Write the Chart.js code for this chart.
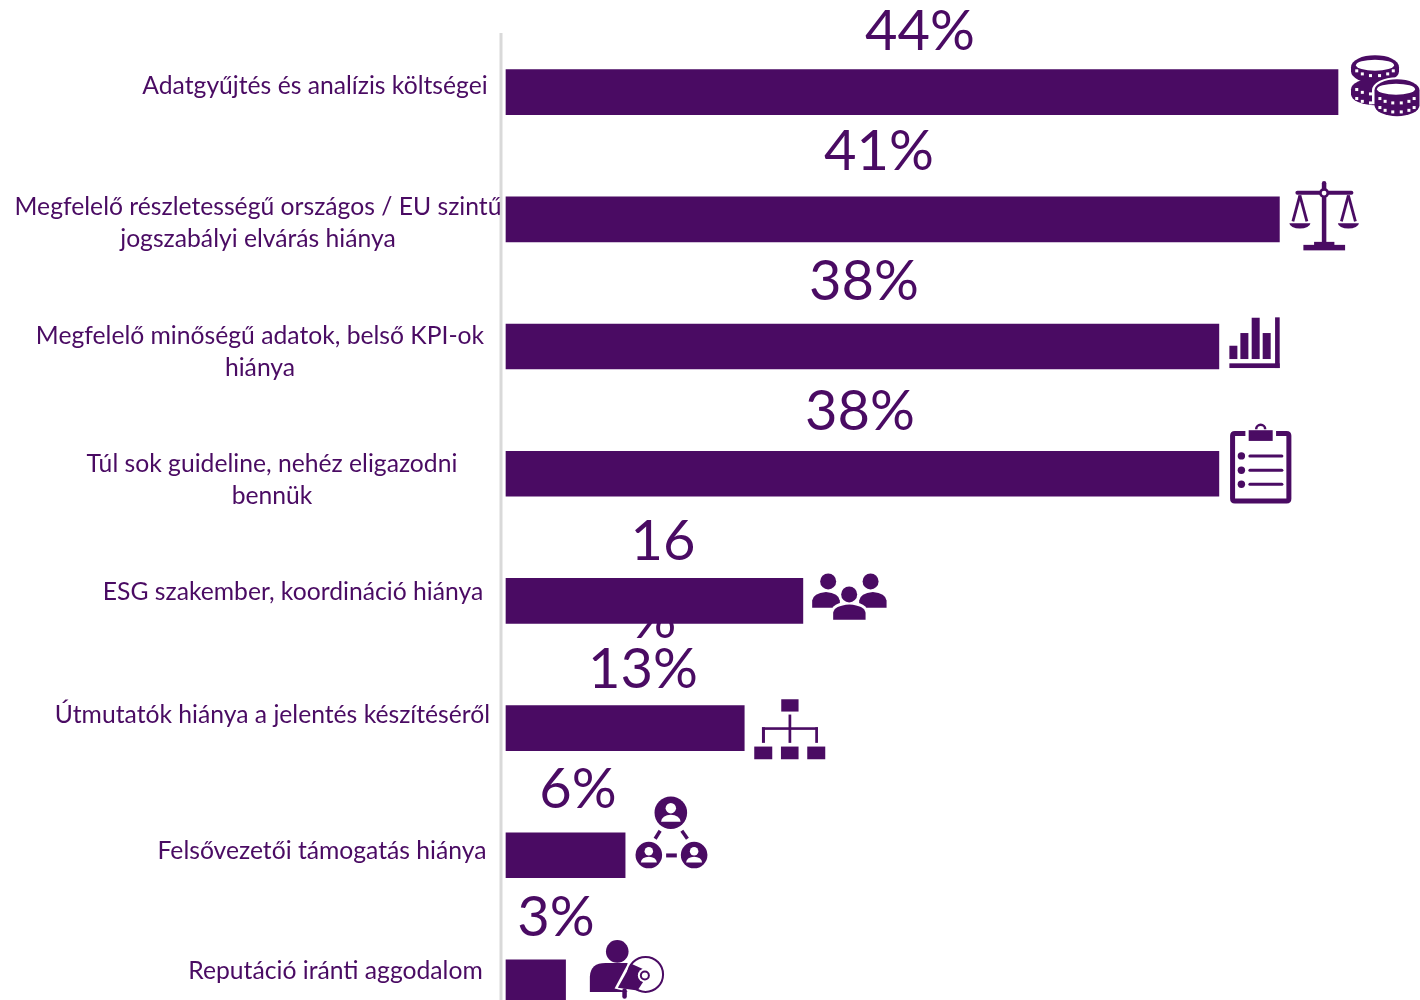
<!DOCTYPE html>
<html lang="hu">
<head>
<meta charset="utf-8">
<title>ESG jelentés nehézségei</title>
<script src="https://cdn.jsdelivr.net/npm/chart.js@4"></script>
<style>
    html, body { margin: 0; padding: 0; background: #fff; overflow: hidden; }
    canvas { display: block; }
</style>
</head>
<body>
<canvas id="barriersChart" width="1420" height="1046"></canvas>
<script>
// Data
const categories = [
    ["Adatgyűjtés és analízis költségei"],
    ["Megfelelő részletességű országos / EU szintű", "jogszabályi elvárás hiánya"],
    ["Megfelelő minőségű adatok, belső KPI-ok", "hiánya"],
    ["Túl sok guideline, nehéz eligazodni", "bennük"],
    ["ESG szakember, koordináció hiánya"],
    ["Útmutatók hiánya a jelentés készítéséről"],
    ["Felsővezetői támogatás hiánya"],
    ["Reputáció iránti aggodalom"]
];
const barValues = [44, 40.9, 37.7, 37.7, 15.7, 12.6, 6.3, 3.15];
const valueLabels = [["44%"], ["41%"], ["38%"], ["38%"], ["16", "%"], ["13%"], ["6%"], ["3%"]];

// Layout: the text boxes were placed by hand in the original, so they do not follow the bars
const categoryCenterX = [315, 258, 260, 272, 293, 272.5, 322, 335.5];
const categoryDy = [2, -4.5, -2.5, -1.5, -0.5, -5.5, 3.5, -3];
const valueCenterX = [920, 879, 864, 860, 663, 643, 578, 556];
const valueBaseline = [50, 170, 300, 430, 560, 688, 808, 936];

const PURPLE = "#4a0b63";
const WHITE = "#ffffff";

function rect(ctx, x1, y1, x2, y2) {
    ctx.fillRect(x1, y1, x2 - x1, y2 - y1);
}
function dot(ctx, x, y, r) {
    ctx.beginPath();
    ctx.arc(x, y, r, 0, Math.PI * 2);
    ctx.fill();
}
function seg(ctx, x1, y1, x2, y2, w) {
    ctx.lineWidth = w;
    ctx.beginPath();
    ctx.moveTo(x1, y1);
    ctx.lineTo(x2, y2);
    ctx.stroke();
}
// coin stack: a cylinder with a row of white notches along each rim
function coin(ctx, cx, top, bottom, rx, ry, rows) {
    ctx.fillStyle = PURPLE;
    ctx.beginPath();
    ctx.ellipse(cx, top + ry, rx, ry, 0, Math.PI, 0);
    ctx.lineTo(cx + rx, bottom - ry);
    ctx.ellipse(cx, bottom - ry, rx, ry, 0, 0, Math.PI);
    ctx.closePath();
    ctx.fill();
    ctx.fillStyle = WHITE;
    rows.forEach(function (cy) {
        for (let a = 25; a <= 155; a += 26) {
            const t = a * Math.PI / 180;
            ctx.fillRect(cx + rx * 0.84 * Math.cos(t) - 1.5, cy + ry * 0.72 * Math.sin(t) - 1.5, 3, 3);
        }
    });
}
function person(ctx, cx, cy, r) {
    ctx.fillStyle = WHITE;
    dot(ctx, cx, cy - r * 0.28, r * 0.32);
    ctx.beginPath();
    ctx.ellipse(cx, cy + r * 0.56, r * 0.6, r * 0.44, 0, Math.PI, 0);
    ctx.closePath();
    ctx.fill();
    ctx.fillStyle = PURPLE;
}
function shoulders(ctx, x1, x2, top, bottom) {
    const cx = (x1 + x2) / 2;
    ctx.beginPath();
    ctx.moveTo(x1, bottom);
    ctx.lineTo(x1, top + (bottom - top) * 0.55);
    ctx.quadraticCurveTo(x1 + 1, top + 1, cx, top);
    ctx.quadraticCurveTo(x2 - 1, top + 1, x2, top + (bottom - top) * 0.55);
    ctx.lineTo(x2, bottom);
    ctx.closePath();
}

// Icons, in pixels relative to the end and middle of their bar
const icons = [
    function coins(ctx) {
        coin(ctx, 37, -37, -9, 24, 12, [-25]);
        coin(ctx, 37, -14, 13, 24, 11, [-6, 3]);
        ctx.fillStyle = WHITE;
        ctx.beginPath();
        ctx.ellipse(37, -27, 19, 5.5, 0, 0, Math.PI * 2);
        ctx.fill();
        // white halo separates the front stack from the one behind
        ctx.beginPath();
        ctx.ellipse(59, -2, 25, 13, 0, 0, Math.PI * 2);
        ctx.rect(34, -2, 50, 14);
        ctx.fill();
        coin(ctx, 59, -13, 24, 22.5, 11, [3, 12]);
        ctx.fillStyle = WHITE;
        ctx.beginPath();
        ctx.ellipse(58, -3, 19, 5.5, 0, 0, Math.PI * 2);
        ctx.fill();
    },
    function scales(ctx) {
        ctx.fillStyle = PURPLE;
        ctx.strokeStyle = PURPLE;
        ctx.lineCap = "round";
        seg(ctx, 44.7, -36, 44.7, 24, 4.5);
        seg(ctx, 18, -26.5, 72, -26.5, 4);
        ctx.lineCap = "butt";
        dot(ctx, 44.7, -26.3, 5);
        ctx.fillStyle = WHITE;
        dot(ctx, 44.7, -26.3, 2.4);
        ctx.fillStyle = PURPLE;
        rect(ctx, 24, 25.5, 65.7, 31);
        rect(ctx, 34.7, 22.5, 55, 26);
        [20.5, 69].forEach(function (cx) {
            seg(ctx, cx, -24, cx - 7, 2, 2.8);
            seg(ctx, cx, -24, cx + 7, 2, 2.8);
            ctx.beginPath();
            ctx.ellipse(cx, 3.8, 10.5, 5.3, 0, 0, Math.PI);
            ctx.closePath();
            ctx.fill();
        });
    },
    function barsIcon(ctx) {
        ctx.fillStyle = PURPLE;
        rect(ctx, 10.5, -0.8, 18.5, 12.5);
        rect(ctx, 21.5, -13.5, 29.5, 12.5);
        rect(ctx, 32.8, -28.8, 40.8, 12.5);
        rect(ctx, 43.8, -13.5, 51.8, 12.5);
        rect(ctx, 10.5, 16.8, 60.8, 21.5);
        rect(ctx, 56.2, -29.2, 60.8, 21.5);
    },
    function clipboard(ctx) {
        ctx.fillStyle = PURPLE;
        ctx.strokeStyle = PURPLE;
        ctx.lineWidth = 5;
        ctx.beginPath();
        ctx.moveTo(26.5, -40.3);
        ctx.lineTo(16, -40.3);
        ctx.quadraticCurveTo(13.7, -40.3, 13.7, -38);
        ctx.lineTo(13.7, 25);
        ctx.quadraticCurveTo(13.7, 27.3, 16, 27.3);
        ctx.lineTo(67.7, 27.3);
        ctx.quadraticCurveTo(70, 27.3, 70, 25);
        ctx.lineTo(70, -38);
        ctx.quadraticCurveTo(70, -40.3, 67.7, -40.3);
        ctx.lineTo(57.2, -40.3);
        ctx.stroke();
        rect(ctx, 29.8, -43.5, 53.8, -32.8);
        ctx.lineWidth = 2.5;
        ctx.beginPath();
        ctx.arc(41.8, -44.5, 4.5, Math.PI, 0);
        ctx.stroke();
        [-17.8, -3.5, 10.5].forEach(function (y) {
            dot(ctx, 22.5, y, 3.7);
            ctx.lineCap = "round";
            seg(ctx, 31, y, 63, y, 3);
            ctx.lineCap = "butt";
        });
    },
    function people(ctx) {
        ctx.fillStyle = PURPLE;
        dot(ctx, 25.3, -19.5, 8);
        dot(ctx, 67.7, -19.5, 8);
        shoulders(ctx, 9.3, 37, -9, 6.8);
        ctx.fill();
        shoulders(ctx, 56.3, 83.7, -9, 6.8);
        ctx.fill();
        // front figure with a white outline
        ctx.fillStyle = WHITE;
        dot(ctx, 46.3, -6.5, 10.5);
        shoulders(ctx, 27.8, 65.2, 0.5, 21);
        ctx.fill();
        ctx.fillStyle = PURPLE;
        dot(ctx, 46.3, -6.5, 8);
        shoulders(ctx, 30.3, 62.7, 3.5, 18.8);
        ctx.fill();
    },
    function orgChart(ctx) {
        ctx.fillStyle = PURPLE;
        rect(ctx, 37, -28.8, 54.3, -16.5);
        rect(ctx, 44.3, -13.5, 47, 14.8);
        rect(ctx, 17.7, -0.8, 73.7, 1.8);
        rect(ctx, 17.7, -0.8, 20.7, 14.8);
        rect(ctx, 71, -0.8, 73.7, 14.8);
        rect(ctx, 10, 18.5, 28, 31.2);
        rect(ctx, 36.7, 18.5, 54.3, 31.2);
        rect(ctx, 63, 18.5, 81, 31.2);
    },
    function network(ctx) {
        ctx.fillStyle = PURPLE;
        ctx.strokeStyle = PURPLE;
        [[45.7, -42.5, 16.3], [23.7, -0.2, 13.3], [69, -0.2, 13.3]].forEach(function (c) {
            dot(ctx, c[0], c[1], c[2]);
            person(ctx, c[0], c[1], c[2]);
        });
        seg(ctx, 30, -16.5, 35, -24.5, 3.5);
        seg(ctx, 56.7, -24.5, 62.3, -16.5, 3.5);
        seg(ctx, 41, 0.2, 51.7, 0.2, 4);
    },
    function speaker(ctx) {
        ctx.fillStyle = PURPLE;
        ctx.strokeStyle = PURPLE;
        dot(ctx, 51.7, -31, 11.3);
        ctx.beginPath();
        ctx.moveTo(24.3, 9.7);
        ctx.lineTo(24.3, -6);
        ctx.quadraticCurveTo(25, -19.3, 40, -19.3);
        ctx.lineTo(62, -19.3);
        ctx.lineTo(62, 9.7);
        ctx.closePath();
        ctx.fill();
        // megaphone sits on top of the figure, cut out with white
        ctx.fillStyle = WHITE;
        dot(ctx, 80, -8, 19);
        ctx.beginPath();
        ctx.moveTo(49, 6);
        ctx.lineTo(64, -22);
        ctx.lineTo(80, -8);
        ctx.lineTo(74, 12);
        ctx.closePath();
        ctx.fill();
        ctx.fillStyle = PURPLE;
        ctx.lineWidth = 2;
        ctx.beginPath();
        ctx.arc(80, -8, 17.5, 0, Math.PI * 2);
        ctx.stroke();
        ctx.beginPath();
        ctx.moveTo(52.3, 5.3);
        ctx.lineTo(65.7, -18.7);
        ctx.lineTo(84, -10.3);
        ctx.lineTo(72, 8);
        ctx.closePath();
        ctx.fill();
        ctx.lineCap = "round";
        seg(ctx, 59, 8, 59, 14, 4.5);
        ctx.lineCap = "butt";
        ctx.fillStyle = WHITE;
        dot(ctx, 79.3, -7, 7);
        ctx.fillStyle = PURPLE;
        dot(ctx, 79.3, -7, 5);
        ctx.fillStyle = WHITE;
        dot(ctx, 79.3, -7, 3);
    }
];

// Grey axis line, percentages (drawn under the bars, the wrapped "%" is partly hidden), category text
const underBars = {
    id: "underBars",
    beforeDatasetsDraw: function (chart) {
        const ctx = chart.ctx;
        const area = chart.chartArea;
        ctx.save();
        ctx.strokeStyle = "#d9d9d9";
        ctx.lineWidth = 3;
        ctx.beginPath();
        ctx.moveTo(area.left, 33);
        ctx.lineTo(area.left, area.bottom);
        ctx.stroke();

        ctx.fillStyle = PURPLE;
        ctx.font = "56px Lato, Carlito, sans-serif";
        ctx.textAlign = "center";
        ctx.textBaseline = "alphabetic";
        valueLabels.forEach(function (lines, i) {
            lines.forEach(function (line, j) {
                // the wrapped second line sits a little left of the first
                ctx.fillText(line, valueCenterX[i] - j * 9, valueBaseline[i] + j * 78);
            });
        });

        ctx.font = "24.7px Lato, Carlito, sans-serif";
        const yScale = chart.scales.y;
        categories.forEach(function (lines, i) {
            const y = yScale.getPixelForValue(i) + categoryDy[i];
            lines.forEach(function (line, j) {
                ctx.fillText(line, categoryCenterX[i], y + j * 32);
            });
        });
        ctx.restore();
    }
};

const iconPlugin = {
    id: "iconPlugin",
    afterDatasetsDraw: function (chart) {
        const ctx = chart.ctx;
        barValues.forEach(function (v, i) {
            ctx.save();
            ctx.translate(chart.scales.x.getPixelForValue(v), chart.scales.y.getPixelForValue(i));
            icons[i](ctx);
            ctx.restore();
        });
    }
};

new Chart(document.getElementById("barriersChart"), {
    type: "bar",
    data: {
        labels: categories.map(function (c) { return c.join(" "); }),
        datasets: [{
            data: barValues,
            backgroundColor: PURPLE,
            barThickness: 45,
            borderWidth: 0
        }]
    },
    options: {
        indexAxis: "y",
        responsive: false,
        animation: false,
        layout: { padding: { left: 501, top: 28.6, right: 0, bottom: 0 } },
        plugins: { legend: { display: false }, tooltip: { enabled: false } },
        scales: {
            // 0 falls a few pixels right of the grey line, as in the reference
            x: { display: false, min: -0.264, max: 48.336 },
            y: { display: false }
        }
    },
    plugins: [underBars, iconPlugin]
});
</script>
</body>
</html>
